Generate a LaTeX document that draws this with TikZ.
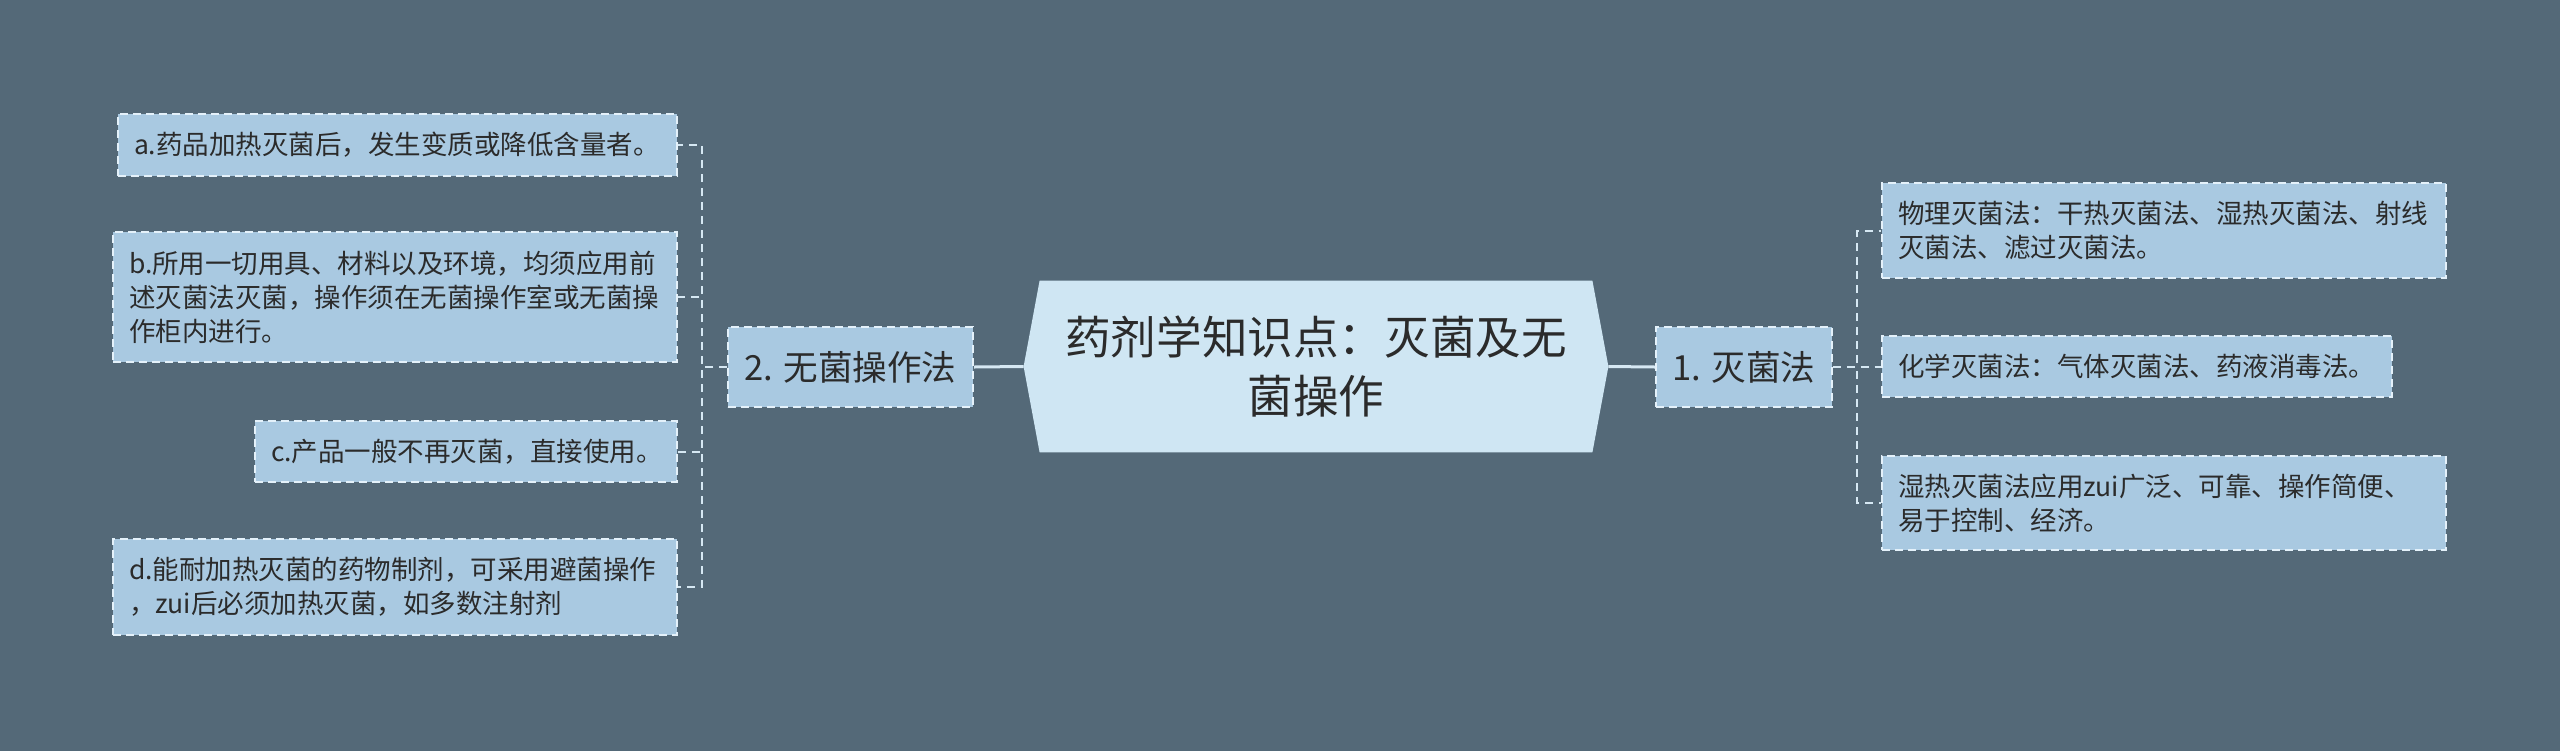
\documentclass[tikz,border=0pt]{standalone}
\usepackage{fontspec}
\setmainfont{Noto Sans CJK SC}
\usetikzlibrary{backgrounds}

\definecolor{bgcol}{HTML}{546978}
\definecolor{rootfill}{HTML}{CFE6F3}
\definecolor{leaffill}{HTML}{A9C9E1}
\definecolor{edgecol}{HTML}{E4F1FA}
\definecolor{linkcol}{HTML}{D6E8F3}
\definecolor{inkcol}{HTML}{2B2B2B}

\tikzset{
  rootbox/.style={minimum width=292pt, minimum height=85.5pt, inner sep=0pt, align=center,
    text=inkcol, font=\fontsize{22.8}{29.5}\selectfont},
  topicbox/.style={fill=leaffill, draw=edgecol, dash pattern=on 4pt off 2.5pt, line width=1pt,
    minimum height=40pt, inner sep=0pt, text=inkcol, font=\fontsize{17.3}{21}\selectfont},
  leafbox/.style={fill=leaffill, draw=edgecol, dash pattern=on 4pt off 2.5pt, line width=1pt,
    align=left, inner xsep=8pt, inner ysep=4pt, text=inkcol, font=\fontsize{13.25}{17}\selectfont},
  solidlink/.style={draw=linkcol, line width=1.5pt},
  dashlink/.style={draw=linkcol, line width=1pt, dash pattern=on 4pt off 3pt}
}

\begin{document}
\begin{tikzpicture}[x=0.5pt,y=-0.5pt]
    % page size 2560 x 751 (1 unit = 1 px)
    \useasboundingbox (0,0) rectangle (2560,751);

    % centre topic
    \node[rootbox] (root) at (1316,366.5) {药剂学知识点：灭菌及无\\菌操作};

    % first level
    \node[topicbox, minimum width=88pt] (steril) at (1744,367) {1. 灭菌法};
    \node[topicbox, minimum width=122.5pt] (aseptic) at (850.5,367) {2. 无菌操作法};

    % right branch
    \node[leafbox, anchor=west, text width=266pt, minimum height=47.5pt] (phys) at (1881,230.5)
        {物理灭菌法：干热灭菌法、湿热灭菌法、射线\\灭菌法、滤过灭菌法。};
    \node[leafbox, anchor=west, text width=239pt, minimum height=30.5pt] (chem) at (1881,366.5)
        {化学灭菌法：气体灭菌法、药液消毒法。};
    \node[leafbox, anchor=west, text width=266pt, minimum height=47pt] (moist) at (1881,503)
        {湿热灭菌法应用zui广泛、可靠、操作简便、\\易于控制、经济。};

    % left branch
    \node[leafbox, anchor=east, text width=263.5pt, minimum height=31pt] (leafA) at (678,145)
        {a.药品加热灭菌后，发生变质或降低含量者。};
    \node[leafbox, anchor=east, text width=266pt, minimum height=65pt] (leafB) at (678,297)
        {b.所用一切用具、材料以及环境，均须应用前\\述灭菌法灭菌，操作须在无菌操作室或无菌操\\作柜内进行。};
    \node[leafbox, anchor=east, text width=195pt, minimum height=30.5pt] (leafC) at (678,451.5)
        {c.产品一般不再灭菌，直接使用。};
    \node[leafbox, anchor=east, text width=266pt, minimum height=48pt] (leafD) at (678,587)
        {d.能耐加热灭菌的药物制剂，可采用避菌操作\\，zui后必须加热灭菌，如多数注射剂};

    % background and centre shape
    \begin{scope}[on background layer]
        \fill[bgcol] (0,0) rectangle (2560,751);
        \fill[rootfill] (root.west) -- ([xshift=8pt]root.north west) -- ([xshift=-8pt]root.north east)
            -- (root.east) -- ([xshift=-8pt]root.south east) -- ([xshift=8pt]root.south west) -- cycle;
    \end{scope}

    % connectors
    \coordinate (spineR) at (1857,367);
    \coordinate (spineL) at (702,367);
    \draw[solidlink] (root.east) -- (steril.west);
    \draw[solidlink] (root.west) -- (aseptic.east);
    \foreach \n in {phys,chem,moist}
        \draw[dashlink] (steril.east) -- (steril.east -| spineR) |- (\n.west);
    \foreach \n in {leafA,leafB,leafC,leafD}
        \draw[dashlink] (aseptic.west) -- (aseptic.west -| spineL) |- (\n.east);
\end{tikzpicture}
\end{document}
